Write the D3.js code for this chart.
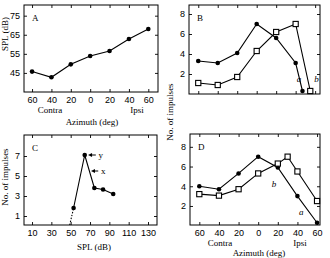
<!DOCTYPE html>
<html>
<head>
<meta charset="utf-8">
<script src="https://cdn.jsdelivr.net/npm/d3@7"></script>
<style>
  body { margin: 0; background: #fff; }
  svg { font-family: 'Liberation Serif', 'DejaVu Serif', serif; }
  text { fill: #000; }
  .tick text { font-size: 9px; fill: #000; }
  .tick line { stroke: #000; stroke-width: 0.9; }
  .domain { display: none; }
</style>
</head>
<body>
<div id="chart"></div>
<script>
// panel A: SPL threshold vs azimuth
const azimuth = [-60, -40, -20, 0, 20, 40, 60];
const azTickLabels = ['60', '40', '20', '0', '20', '40', '60'];
const splA = [45.7, 42.7, 49.5, 53.9, 56.5, 62.8, 68];
const splTicks = [45, 55, 65, 75];

// panel B: impulses vs azimuth, curves a (filled) and b (open)
const bAzA = [-60, -40, -20, 0, 20, 40, 47];
const bImpA = [3.3, 3.1, 4.1, 7.0, 5.6, 3.1, 0.3];
const bAzB = [-60, -40, -20, 0, 20, 40, 55];
const bImpB = [1.1, 0.9, 1.7, 4.3, 6.2, 7.0, 0.3];
const impTicksEven = [2, 4, 6, 8];

// panel C: impulses vs SPL
const cSpl = [53, 64.5, 74.5, 83.5, 94];
const cImp = [1.8, 7.1, 3.8, 3.65, 3.2];
const cDotSpl = [49, 53];
const cDotImp = [0.1, 1.8];
const cSplTicks = [10, 30, 50, 70, 90, 110, 130];
const impTicksOdd = [1, 3, 5, 7];

// panel D
const dAzA = [-60, -40, -20, 0, 20, 40, 60];
const dImpA = [4.0, 3.7, 5.3, 7.0, 5.9, 3.0, 0.3];
const dAzB = [-60, -40, -20, 0, 20, 30, 40, 60];
const dImpB = [3.2, 3.05, 3.7, 5.3, 6.3, 7.0, 5.5, 2.5];

const svg = d3.select('#chart').append('svg')
  .attr('width', 330)
  .attr('height', 258);

function panel(p) {
  const x = d3.scaleLinear().domain(p.xDomain).range([p.left, p.right]);
  const y = d3.scaleLinear().domain(p.yDomain).range([p.bottom, p.top]);
  const g = svg.append('g');

  g.append('rect')
    .attr('x', p.left).attr('y', p.top)
    .attr('width', p.right - p.left).attr('height', p.bottom - p.top)
    .attr('fill', 'none').attr('stroke', '#000').attr('stroke-width', 1);

  const xb = d3.axisBottom(x).tickValues(p.xTicks).tickSize(-3).tickSizeOuter(0).tickPadding(5);
  if (p.xLabels) xb.tickFormat((d, i) => p.xLabels[i]);
  else xb.tickFormat('');
  g.append('g').attr('transform', `translate(0,${p.bottom})`).call(xb);
  g.append('g').attr('transform', `translate(0,${p.top})`)
    .call(d3.axisTop(x).tickValues(p.xTicks).tickSize(-3).tickSizeOuter(0).tickFormat(''));
  g.append('g').attr('transform', `translate(${p.left},0)`)
    .call(d3.axisLeft(y).tickValues(p.yTicks).tickSize(-3).tickSizeOuter(0).tickPadding(4));
  g.append('g').attr('transform', `translate(${p.right},0)`)
    .call(d3.axisRight(y).tickValues(p.yTicks).tickSize(-3).tickSizeOuter(0).tickFormat(''));

  g.append('text')
    .attr('x', p.left + 8).attr('y', p.top + 16)
    .attr('font-size', 9).attr('fill', '#000').text(p.letter);
  return {g, x, y};
}

function series(ctx, xs, ys, kind) {
  const pts = xs.map((d, i) => [d, ys[i]]);
  const line = d3.line().x(d => ctx.x(d[0])).y(d => ctx.y(d[1]));
  ctx.g.append('path').datum(pts)
    .attr('d', line).attr('fill', 'none')
    .attr('stroke', '#000').attr('stroke-width', 1.1);
  if (kind === 'square') {
    ctx.g.selectAll(null).data(pts).enter().append('rect')
      .attr('x', d => ctx.x(d[0]) - 2.6).attr('y', d => ctx.y(d[1]) - 2.6)
      .attr('width', 5.2).attr('height', 5.2)
      .attr('fill', '#fff').attr('stroke', '#000').attr('stroke-width', 1.1);
  } else {
    ctx.g.selectAll(null).data(pts).enter().append('circle')
      .attr('cx', d => ctx.x(d[0])).attr('cy', d => ctx.y(d[1]))
      .attr('r', 2.3).attr('fill', '#000');
  }
}

function label(txt, x, y, opts = {}) {
  const t = svg.append('text')
    .attr('x', x).attr('y', y)
    .attr('font-size', opts.size || 9)
    .attr('text-anchor', opts.anchor || 'middle')
    .attr('fill', '#000')
    .text(txt);
  if (opts.italic) t.attr('font-style', 'italic');
  if (opts.rotate) t.attr('transform', `rotate(-90,${x},${y})`);
  return t;
}

// A
const A = panel({
  left: 24, right: 158, top: 5, bottom: 92,
  xDomain: [-68.3, 70], yDomain: [35, 80.6],
  xTicks: azimuth, xLabels: azTickLabels, yTicks: splTicks, letter: 'A'
});
series(A, azimuth, splA, 'circle');
label('Contra', 50, 113);
label('Ipsi', 137, 113);
label('Azimuth (deg)', 92, 125);
label('SPL (dB)', 8, 34, {rotate: true});

// B
const B = panel({
  left: 189, right: 320, top: 5, bottom: 94,
  xDomain: [-69.5, 65], yDomain: [0, 8.9],
  xTicks: azimuth, xLabels: null, yTicks: impTicksEven, letter: 'B'
});
series(B, bAzA, bImpA, 'circle');
series(B, bAzB, bImpB, 'square');
label('a', B.x(43.5), B.y(1.2), {italic: true});
label('b', B.x(61.5), B.y(1.2), {italic: true});
label('No. of impulses', 173, 112, {rotate: true});

// C
const C = panel({
  left: 24, right: 157, top: 135, bottom: 225,
  xDomain: [1.7, 139.3], yDomain: [0.1, 9.1],
  xTicks: cSplTicks, xLabels: cSplTicks.map(String), yTicks: impTicksOdd, letter: 'C'
});
C.g.append('path')
  .datum(cDotSpl.map((d, i) => [d, cDotImp[i]]))
  .attr('d', d3.line().x(d => C.x(d[0])).y(d => C.y(d[1])))
  .attr('fill', 'none').attr('stroke', '#000')
  .attr('stroke-width', 1.1).attr('stroke-dasharray', '1.5,1.5');
series(C, cSpl, cImp, 'circle');

// arrows marking thresholds x and y
const arrows = [
  {from: 76, to: 68, v: 7.1, name: 'y'},
  {from: 78.5, to: 71, v: 5.5, name: 'x'}
];
arrows.forEach(a => {
  const x0 = C.x(a.from), x1 = C.x(a.to), yy = C.y(a.v);
  C.g.append('line')
    .attr('x1', x0).attr('x2', x1 + 2).attr('y1', yy).attr('y2', yy)
    .attr('stroke', '#000').attr('stroke-width', 1);
  C.g.append('path')
    .attr('d', `M${x1},${yy}L${x1 + 4},${yy - 2}L${x1 + 4},${yy + 2}Z`)
    .attr('fill', '#000');
  label(a.name, x0 + 5, yy + 3, {size: 9});
});
label('SPL (dB)', 94, 250);
label('No. of impulses', 8, 177, {rotate: true});

// D
const D = panel({
  left: 190, right: 320, top: 134, bottom: 225,
  xDomain: [-69.5, 63], yDomain: [0.07, 9.3],
  xTicks: azimuth, xLabels: azTickLabels, yTicks: impTicksEven, letter: 'D'
});
series(D, dAzA, dImpA, 'circle');
series(D, dAzB, dImpB, 'square');
label('b', D.x(16), D.y(3.9), {italic: true});
label('a', D.x(44), D.y(1.1), {italic: true});
label('Contra', 220, 246);
label('Ipsi', 300, 246);
label('Azimuth (deg)', 259, 256);
</script>
</body>
</html>
